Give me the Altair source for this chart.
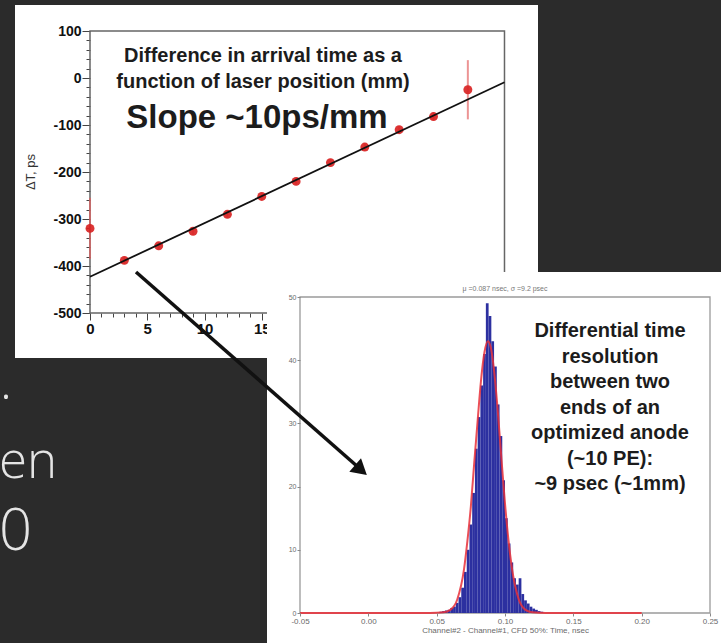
import altair as alt
import pandas as pd

# ---------------- panel 1: arrival-time difference vs laser position ----------------
pos_mm = [0, 3, 6, 9, 12, 15, 18, 21, 24, 27, 30, 33]
delta_t_ps = [-320, -388, -357, -326, -290, -252, -220, -180, -147, -110, -82, -25]
delta_err_ps = [65, 8, 8, 8, 8, 8, 8, 8, 8, 8, 8, 63]
fit_pos_mm = [0, 36.2]
fit_delta_ps = [-423, -9]
p1_x_range = [0, 36.2]
p1_y_range = [-500, 100]
p1_x_ticks = list(range(0, 21))
p1_y_ticks = list(range(-500, 101, 20))

# ---------------- panel 2: differential time histogram ----------------
bin_lo = [0.050, 0.052, 0.054, 0.056, 0.058, 0.060, 0.062, 0.064, 0.066, 0.068,
          0.070, 0.072, 0.074, 0.076, 0.078, 0.080, 0.082, 0.084, 0.086, 0.088,
          0.090, 0.092, 0.094, 0.096, 0.098, 0.100, 0.102, 0.104, 0.106, 0.108,
          0.110, 0.112, 0.114, 0.116, 0.118, 0.120, 0.122, 0.124, 0.126]
bin_hi = [0.052, 0.054, 0.056, 0.058, 0.060, 0.062, 0.064, 0.066, 0.068, 0.070,
          0.072, 0.074, 0.076, 0.078, 0.080, 0.082, 0.084, 0.086, 0.088, 0.090,
          0.092, 0.094, 0.096, 0.098, 0.100, 0.102, 0.104, 0.106, 0.108, 0.110,
          0.112, 0.114, 0.116, 0.118, 0.120, 0.122, 0.124, 0.126, 0.128]
bin_count = [0, 0.2, 0.3, 0.4, 0.5, 0.8, 1.0, 1.6, 2.5, 4.0,
             6.5, 10, 14, 19, 26, 31, 36, 41, 49, 47,
             43, 39, 33, 28, 21, 15, 11, 8, 5.5, 4.5,
             5.5, 3, 2, 1.5, 1, 0.7, 0.5, 0.3, 0.2]
gauss_x = [-0.05, 0.045, 0.055, 0.060, 0.065, 0.070, 0.0725, 0.075, 0.0775, 0.080,
           0.0825, 0.085, 0.0875, 0.090, 0.0925, 0.095, 0.0975, 0.100, 0.1025, 0.105,
           0.110, 0.115, 0.120, 0.130, 0.20]
gauss_y = [0, 0, 0.1, 0.5, 2.1, 6.9, 11.4, 16.8, 23.8, 30.5,
           36.9, 41.3, 43, 41.6, 37.3, 31.2, 24.1, 17.3, 11.6, 7.2,
           2.2, 0.5, 0.1, 0, 0]
p2_x_range = [-0.05, 0.25]
p2_y_range = [0, 50]
p2_x_ticks = [-0.05, 0.0, 0.05, 0.10, 0.15, 0.20, 0.25]
p2_y_ticks = [0, 10, 20, 30, 40, 50]

FONT = "Liberation Sans"
ONE = alt.Data(values=[{}])

# scales: each panel's data mapped into its own region of the 721x643 canvas
P1X = alt.Scale(domain=[-7.8603, 55.109], nice=False, zero=False)
P1Y = alt.Scale(domain=[-1202.13, 165.96], nice=False, zero=False)
P2X = alt.Scale(domain=[-0.26951, 0.25805], nice=False, zero=False)
P2Y = alt.Scale(domain=[-4.7468, 96.994], nice=False, zero=False)

p1_xaxis = alt.Axis(orient="bottom", offset=-330, values=p1_x_ticks, domain=False, grid=False,
                    labelExpr="datum.value % 5 === 0 ? '' + datum.value : ''",
                    tickSize={"condition": {"test": "datum.value % 5 === 0", "value": 7}, "value": 4},
                    tickColor="#444", labelFontSize=15, labelFontWeight="bold", labelColor="#111",
                    labelPadding=1, labelFlush=False, title=None)
p1_yaxis = alt.Axis(orient="left", offset=-90, values=p1_y_ticks, domain=False, grid=False,
                    labelExpr="datum.value % 100 === 0 ? '' + datum.value : ''",
                    tickSize={"condition": {"test": "datum.value % 100 === 0", "value": 8}, "value": 4},
                    tickColor="#444", labelFontSize=14, labelFontWeight="bold", labelColor="#111",
                    labelPadding=1, labelFlush=False, title=None)
p2_xaxis = alt.Axis(orient="bottom", offset=-30, values=p2_x_ticks, domain=False, grid=False,
                    labelExpr="(datum.value < 0 ? '-' : '') + format(abs(datum.value), '.2f')",
                    tickSize=3, tickColor="#888", labelFontSize=8, labelColor="#6a6a6a",
                    labelPadding=1, labelFlush=False, zindex=1,
                    title="Channel#2 - Channel#1, CFD 50%: Time, nsec", titleFontSize=8,
                    titleFontWeight="normal", titleColor="#6a6a6a", titleX=505, titleY=17,
                    titleBaseline="middle", titleAlign="center")
p2_yaxis = alt.Axis(orient="left", offset=-300, values=p2_y_ticks, domain=False, grid=False,
                    tickSize=3, tickColor="#888", labelFontSize=7, labelColor="#6a6a6a",
                    labelPadding=1, labelFlush=False, zindex=1, title=None)


def box(x, x2, y, y2, color):
    return alt.Chart(ONE).mark_rect(color=color).encode(
        x=alt.value(x), x2=alt.value(x2), y=alt.value(y), y2=alt.value(y2))


def label(text, x, y, **kw):
    return alt.Chart(ONE).mark_text(text=text, **kw).encode(x=alt.value(x), y=alt.value(y))


# dark slide background around the two pasted plots
DARK = "#2b2b2b"
dark = alt.layer(
    box(0, 721, 0, 5, DARK),
    box(0, 15, 0, 643, DARK),
    box(538, 721, 0, 272, DARK),
    box(0, 267, 358, 643, DARK),
)

# ---- panel 1 ----
p1_df = pd.DataFrame({"pos": pos_mm, "dt": delta_t_ps, "err": delta_err_ps})
fit_df = pd.DataFrame({"pos": fit_pos_mm, "dt": fit_delta_ps})
frame1_df = pd.DataFrame({"x0": [p1_x_range[0]], "x1": [p1_x_range[1]],
                          "y0": [p1_y_range[0]], "y1": [p1_y_range[1]]})

frame1 = alt.Chart(frame1_df).mark_rect(fillOpacity=0, stroke="#666", strokeWidth=1.5).encode(
    x=alt.X("x0:Q", scale=P1X, axis=p1_xaxis), x2="x1:Q",
    y=alt.Y("y0:Q", scale=P1Y, axis=p1_yaxis), y2="y1:Q")
err1 = alt.Chart(p1_df).transform_calculate(lo="datum.dt - datum.err", hi="datum.dt + datum.err").mark_rule(
    color="#e25a5a", strokeWidth=2, opacity=0.65).encode(
    x=alt.X("pos:Q", scale=P1X, axis=p1_xaxis),
    y=alt.Y("lo:Q", scale=P1Y, axis=p1_yaxis), y2="hi:Q")
pts1 = alt.Chart(p1_df).mark_circle(size=80, color="#d92424", opacity=0.92).encode(
    x=alt.X("pos:Q", scale=P1X, axis=p1_xaxis),
    y=alt.Y("dt:Q", scale=P1Y, axis=p1_yaxis))
fit1 = alt.Chart(fit_df).mark_line(color="#111", strokeWidth=1.8).encode(
    x=alt.X("pos:Q", scale=P1X, axis=p1_xaxis),
    y=alt.Y("dt:Q", scale=P1Y, axis=p1_yaxis))
panel1 = alt.layer(frame1, err1, pts1, fit1)

# ---- panel 2 ----
hist_df = pd.DataFrame({"lo": bin_lo, "hi": bin_hi, "count": bin_count})
gauss_df = pd.DataFrame({"t": gauss_x, "n": gauss_y})
frame2_df = pd.DataFrame({"x0": [p2_x_range[0]], "x1": [p2_x_range[1]],
                          "y0": [p2_y_range[0]], "y1": [p2_y_range[1]]})

frame2 = alt.Chart(frame2_df).mark_rect(fillOpacity=0, stroke="#9a9a9a", strokeWidth=1.3).encode(
    x=alt.X("x0:Q", scale=P2X, axis=p2_xaxis), x2="x1:Q",
    y=alt.Y("y0:Q", scale=P2Y, axis=p2_yaxis), y2="y1:Q")
bars2 = alt.Chart(hist_df).mark_rect(color="#2c30a0").encode(
    x=alt.X("lo:Q", scale=P2X, axis=p2_xaxis), x2="hi:Q",
    y=alt.Y("count:Q", scale=P2Y, axis=p2_yaxis), y2=alt.datum(0))
gauss2 = alt.Chart(gauss_df).mark_line(color="#e8303a", strokeWidth=2, opacity=0.85,
                                       interpolate="monotone").encode(
    x=alt.X("t:Q", scale=P2X, axis=p2_xaxis),
    y=alt.Y("n:Q", scale=P2Y, axis=p2_yaxis))
panel2 = alt.layer(frame2, bars2, gauss2)

panel2_bg = box(267, 721, 272, 643, "white")

# ---- annotations ----
TXT = dict(font=FONT, fontWeight="bold", color="#1c1c1c", align="center", baseline="alphabetic")
notes = alt.layer(
    label(["Difference in arrival time as a", "function of laser position (mm)"], 263, 62,
          fontSize=20, lineHeight=26, **TXT),
    label("Slope ~10ps/mm", 257, 128, fontSize=33, **TXT),
    label("\u0394T, ps", 31, 172, font=FONT, fontSize=13, color="#333", angle=270,
          align="center", baseline="middle"),
    label("\u03bc =0.087 nsec, \u03c3 =9.2 psec", 505, 289, font=FONT, fontSize=7,
          color="#777", align="center", baseline="middle"),
    label(["Differential time", "resolution", "between two", "ends of an",
           "optimized anode", "(~10 PE):", "~9 psec (~1mm)"], 610, 337,
          fontSize=20, lineHeight=25.5, **TXT),
    label(".", 0, 399, font="Open Sans", fontSize=50, fontWeight=300, color="#e4e4e4",
          align="left", baseline="alphabetic"),
    label("en", -1, 478, font="Open Sans", fontSize=51, fontWeight=300, color="#e4e4e4",
          align="left", baseline="alphabetic"),
    label("0", 32, 550, font="Open Sans", fontSize=58, fontWeight=300, color="#e4e4e4",
          align="right", baseline="alphabetic"),
)

arrow = alt.layer(
    alt.Chart(ONE).mark_rule(color="#111", strokeWidth=3.5).encode(
        x=alt.value(136), y=alt.value(272), x2=alt.value(358), y2=alt.value(467)),
    alt.Chart(ONE).mark_point(shape="triangle-right", filled=True, size=320, angle=41,
                              color="#111", opacity=1).encode(
        x=alt.value(361), y=alt.value(470)),
)

chart = alt.layer(dark, panel1, panel2_bg, panel2, notes, arrow).resolve_scale(
    x="independent", y="independent").resolve_axis(
    x="independent", y="independent").properties(
    width=721, height=643, autosize=alt.AutoSizeParams(type="none"), padding=0,
    background="white").configure_view(strokeWidth=0).configure(font=FONT)

chart.save("out.html", embed_options={"renderer": "svg", "actions": False})
